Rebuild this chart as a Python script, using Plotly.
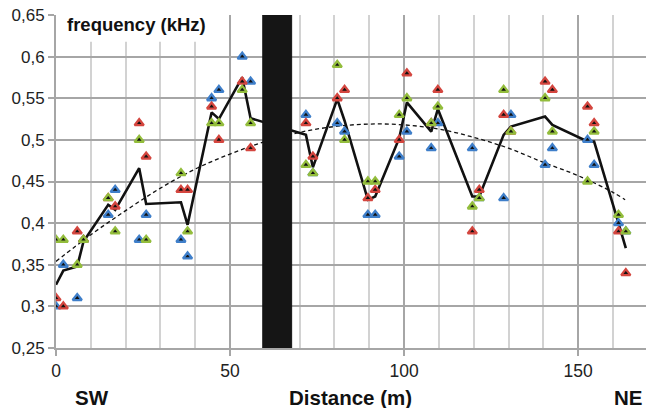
import plotly.graph_objects as go

# station distances (m)
distance = [0.0, 2.1, 6.1, 7.9, 15.0, 17.0, 23.9, 25.9, 35.9, 37.8, 44.7, 46.8,
            53.5, 55.9, 71.8, 73.8, 80.8, 82.9, 89.6, 91.7, 98.6, 100.8, 107.8,
            109.7, 119.6, 121.6, 128.6, 130.7, 140.5, 142.6, 152.7, 154.6, 161.6, 163.7]

freq_blue = [0.30, 0.35, 0.31, 0.38, 0.41, 0.44, 0.38, 0.41, 0.38, 0.36, 0.55, 0.56,
             0.60, 0.57, 0.53, 0.46, 0.52, 0.51, 0.41, 0.41, 0.48, 0.51, 0.49,
             0.52, 0.49, 0.43, 0.43, 0.53, 0.47, 0.49, 0.50, 0.47, 0.40, 0.39]
freq_red = [0.31, 0.30, 0.39, 0.38, 0.43, 0.42, 0.52, 0.48, 0.44, 0.44, 0.54, 0.50,
            0.57, 0.49, 0.52, 0.48, 0.55, 0.56, 0.43, 0.44, 0.50, 0.58, 0.52,
            0.56, 0.39, 0.44, 0.53, 0.51, 0.57, 0.56, 0.54, 0.52, 0.39, 0.34]
freq_green = [0.38, 0.38, 0.35, 0.38, 0.43, 0.39, 0.50, 0.38, 0.46, 0.39, 0.52, 0.52,
              0.56, 0.52, 0.47, 0.46, 0.59, 0.50, 0.45, 0.45, 0.53, 0.55, 0.52,
              0.54, 0.42, 0.43, 0.56, 0.51, 0.55, 0.51, 0.45, 0.51, 0.41, 0.39]
freq_mean = [0.326, 0.343, 0.348, 0.378, 0.422, 0.416, 0.466, 0.423, 0.425, 0.398, 0.533, 0.525,
             0.575, 0.526, 0.506, 0.467, 0.549, 0.523, 0.428, 0.432, 0.502, 0.545, 0.510,
             0.537, 0.432, 0.432, 0.506, 0.516, 0.528, 0.518, 0.498, 0.498, 0.400, 0.370]

trend_x = [0, 10, 20, 30, 40, 50, 60, 70, 80, 90, 100, 110, 120, 130, 140, 150, 160, 163.5]
trend_y = [0.354, 0.386, 0.415, 0.442, 0.465, 0.483, 0.498, 0.509, 0.516, 0.519, 0.518,
           0.513, 0.503, 0.490, 0.473, 0.457, 0.437, 0.428]

gap_start, gap_end = 59.4, 67.7
x_range = [0, 169.5]
y_range = [0.25, 0.65]

C_BLUE, C_RED, C_GREEN = "#3f7fca", "#d4463f", "#93bd3c"
FONT = "Liberation Sans, Arial, sans-serif"

fig = go.Figure()

fig.add_trace(go.Scatter(x=trend_x, y=trend_y, mode="lines", line_shape="spline",
                         line=dict(color="#111111", width=1.3, dash="4px,3px"),
                         showlegend=False, hoverinfo="skip"))
fig.add_trace(go.Scatter(x=distance, y=freq_mean, mode="lines",
                         line=dict(color="#111111", width=2.6),
                         showlegend=False))
for vals, col in [(freq_blue, C_BLUE), (freq_red, C_RED), (freq_green, C_GREEN)]:
    fig.add_trace(go.Scatter(x=distance, y=vals, mode="markers",
                             marker=dict(symbol="triangle-up", size=8, color="#111111",
                                         line=dict(color=col, width=2.3)),
                             showlegend=False))

grid_minor = "#d2d2d2"
grid_major = "#a6a6a6"

fig.update_layout(
    width=646, height=408,
    margin=dict(l=56, r=0, t=15, b=60),
    paper_bgcolor="white", plot_bgcolor="white",
    separators=",.",
    font=dict(family=FONT, size=17, color="#222222"),
    xaxis=dict(range=x_range, tickvals=[0, 50, 100, 150], ticks="outside", ticklen=6,
               tickwidth=1.5, tickcolor=grid_major,
               showgrid=True, gridcolor=grid_major, gridwidth=1.8,
               minor=dict(dtick=10, showgrid=True, gridcolor=grid_minor, gridwidth=1.8,
                          ticks=""),
               showline=True, linecolor=grid_major, linewidth=1.8,
               zeroline=False, tickfont=dict(size=17.5)),
    yaxis=dict(range=y_range, dtick=0.05, tick0=0.25, ticks="outside", ticklen=6,
               tickwidth=1.5, tickcolor=grid_major,
               showgrid=True, gridcolor=grid_major, gridwidth=1.8,
               showline=True, linecolor=grid_major, linewidth=1.8,
               zeroline=False, tickfont=dict(size=17)),
)

# gap (black bar)
fig.add_shape(type="rect", xref="x", yref="y", x0=gap_start, x1=gap_end,
              y0=y_range[0], y1=y_range[1], fillcolor="#151515",
              line=dict(color="#151515", width=1), layer="above")

# white box behind the axis title
fig.add_shape(type="rect", xref="paper", yref="paper", x0=0.004, x1=0.261,
              y0=0.92, y1=1.05, fillcolor="white", line=dict(width=0), layer="above")
fig.add_annotation(text="<b>frequency (kHz)</b>", xref="paper", yref="paper",
                   x=0.015, y=0.97, xanchor="left", yanchor="middle", showarrow=False,
                   font=dict(size=18.5, color="#111111", family=FONT))

for txt, xp in [("SW", 91.5), ("Distance (m)", 350), ("NE", 628)]:
    fig.add_annotation(text="<b>" + txt + "</b>", xref="paper", yref="paper",
                       x=(xp - 56) / 590, y=-0.148, xanchor="center", yanchor="middle",
                       showarrow=False, font=dict(size=20.5, color="#111111", family=FONT))

fig.write_html("out.html")
